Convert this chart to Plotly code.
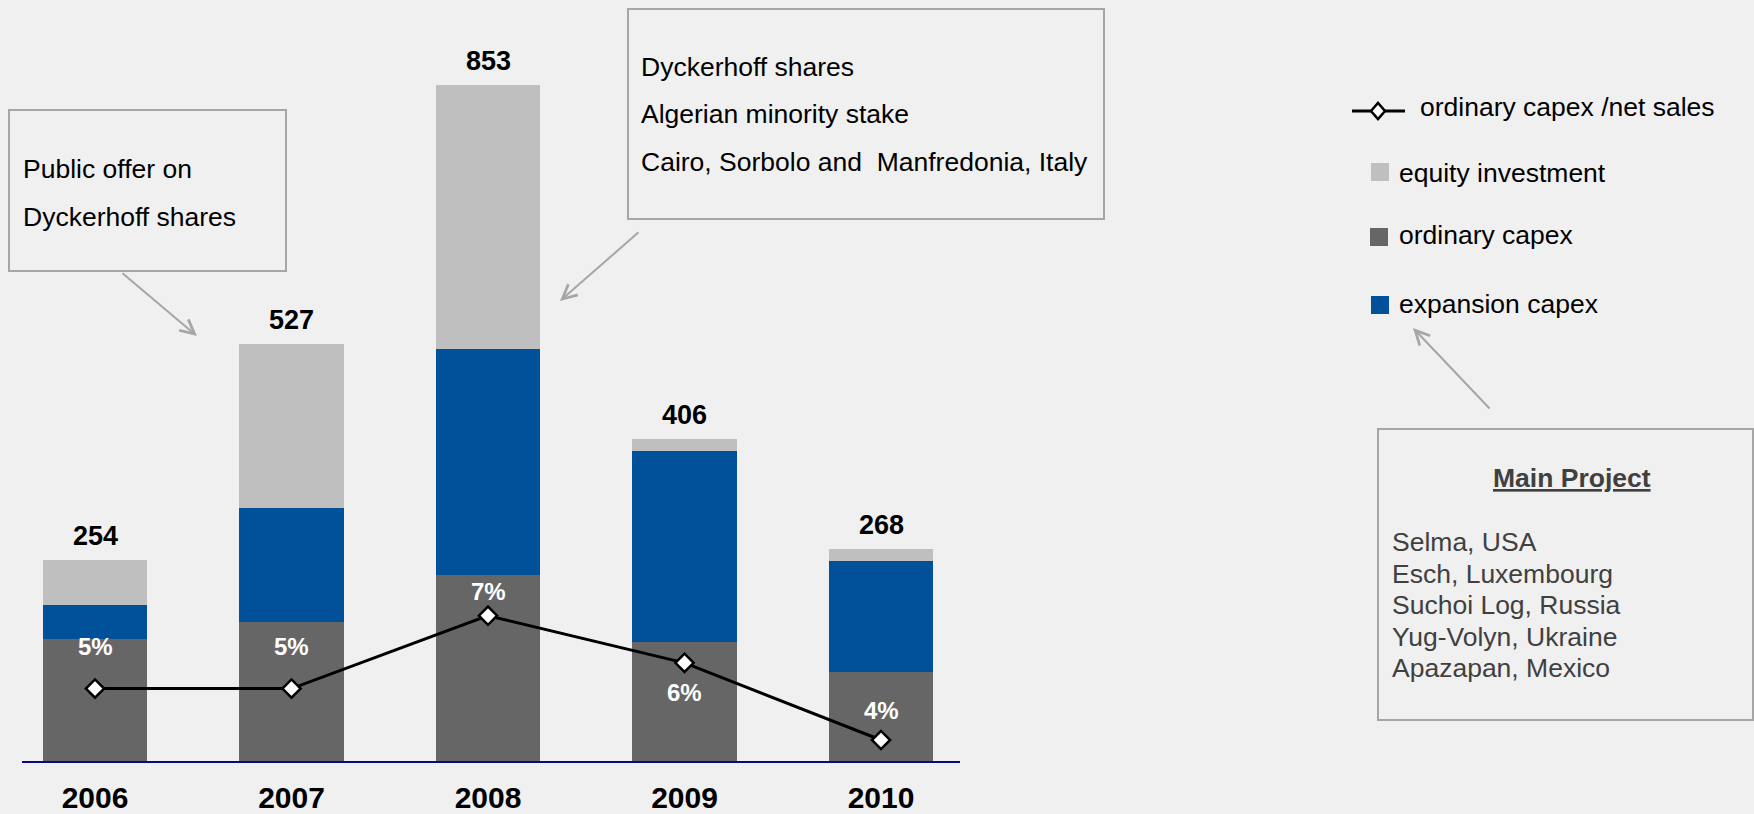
import plotly.graph_objects as go

W, H = 1754, 814
FONT = "Liberation Sans, Arial, sans-serif"

# ---- data -------------------------------------------------------------
years = ["2006", "2007", "2008", "2009", "2010"]
ordinary_capex = [154, 175, 235, 150, 112]
expansion_capex = [43, 145, 285, 242, 141]
equity_investment = [57, 207, 333, 14, 15]
capex_to_sales = [5.3, 5.3, 7.0, 5.9, 4.1]  # ordinary capex / net sales, %

callout_left = ["Public offer on", "Dyckerhoff shares"]
callout_top = ["Dyckerhoff shares", "Algerian minority stake",
               "Cairo, Sorbolo and&nbsp; Manfredonia, Italy"]
main_projects = ["Selma, USA", "Esch, Luxembourg", "Suchoi Log, Russia",
                 "Yug-Volyn, Ukraine", "Apazapan, Mexico"]

totals = [a + b + c for a, b, c in zip(ordinary_capex, expansion_capex, equity_investment)]

# ---- styling ----------------------------------------------------------
C_ORD = "#666666"
C_EXP = "#00509A"
C_EQ = "#BFBFBF"
C_BOX = "#A6A6A6"
BG = "#F0F0F0"
TXT = 26.5
pct_label_shift = [42, 42, 24, -30, 30]   # vertical offset of % labels (px)


def px(x):
    return x / W


def py(y):
    return 1 - y / H


fig = go.Figure()
fig.add_trace(go.Bar(x=years, y=ordinary_capex, name="ordinary capex",
                     marker=dict(color=C_ORD, line=dict(width=0)), showlegend=False))
fig.add_trace(go.Bar(x=years, y=expansion_capex, name="expansion capex",
                     marker=dict(color=C_EXP, line=dict(width=0)), showlegend=False))
fig.add_trace(go.Bar(x=years, y=equity_investment, name="equity investment",
                     marker=dict(color=C_EQ, line=dict(width=0)), showlegend=False))
fig.add_trace(go.Scatter(x=years, y=capex_to_sales, yaxis="y2", mode="lines+markers",
                         name="ordinary capex /net sales",
                         line=dict(color="black", width=3),
                         marker=dict(symbol="diamond", size=14, color="white",
                                     line=dict(color="black", width=2.5)),
                         showlegend=False, cliponaxis=False))

annotations = []
# totals above the stacks (category index as x position)
for i, t in enumerate(totals):
    annotations.append(dict(x=i, y=t, xref="x", yref="y", text=f"<b>{t}</b>",
                            showarrow=False, yshift=24,
                            font=dict(family=FONT, size=27, color="black")))
# percentage labels along the line
for i, (v, s) in enumerate(zip(capex_to_sales, pct_label_shift)):
    annotations.append(dict(x=i, y=v, xref="x", yref="y2", text=f"<b>{v:.0f}%</b>",
                            showarrow=False, yshift=s,
                            font=dict(family=FONT, size=24, color="white")))

# callout texts
for txt, yc in zip(callout_left, [169, 217]):
    annotations.append(dict(x=px(21), y=py(yc), xref="paper", yref="paper", text=txt,
                            xanchor="left", yanchor="middle", showarrow=False,
                            font=dict(family=FONT, size=TXT, color="black")))
for txt, yc in zip(callout_top, [67, 114, 162]):
    annotations.append(dict(x=px(639), y=py(yc), xref="paper", yref="paper", text=txt,
                            xanchor="left", yanchor="middle", showarrow=False,
                            font=dict(family=FONT, size=TXT, color="black")))
annotations.append(dict(x=px(1572), y=py(478), xref="paper", yref="paper",
                        text="<b><u>Main Project</u></b>", showarrow=False,
                        xanchor="center", yanchor="middle",
                        font=dict(family=FONT, size=TXT, color="#404040")))
for k, txt in enumerate(main_projects):
    annotations.append(dict(x=px(1390), y=py(542 + 31.5 * k), xref="paper", yref="paper",
                            text=txt, showarrow=False, xanchor="left", yanchor="middle",
                            font=dict(family=FONT, size=TXT, color="#404040")))

# arrows (head at x,y; tail offset ax,ay in px)
for (tx, ty), (hx, hy) in [((121, 272), (197, 336)),
                           ((640, 231), (560, 301)),
                           ((1491, 410), (1413, 328))]:
    annotations.append(dict(x=px(hx), y=py(hy), xref="paper", yref="paper",
                            ax=tx - hx, ay=ty - hy, axref="pixel", ayref="pixel",
                            text="", showarrow=True, arrowhead=5, arrowsize=1.4,
                            arrowwidth=2, arrowcolor=C_BOX))

# legend
legend_items = [("ordinary capex /net sales", 1418, 107),
                ("equity investment", 1397, 173),
                ("ordinary capex", 1397, 235),
                ("expansion capex", 1397, 304)]
for txt, x0, yc in legend_items:
    annotations.append(dict(x=px(x0), y=py(yc), xref="paper", yref="paper", text=txt,
                            xanchor="left", yanchor="middle", showarrow=False,
                            font=dict(family=FONT, size=TXT, color="black")))

shapes = []
for (x0, y0, x1, y1) in [(9, 110, 286, 271), (628, 9, 1104, 219), (1378, 429, 1753, 720)]:
    shapes.append(dict(type="rect", xref="paper", yref="paper",
                       x0=px(x0), x1=px(x1), y0=py(y0), y1=py(y1),
                       line=dict(color=C_BOX, width=2), fillcolor="rgba(0,0,0,0)"))

# legend symbols
shapes.append(dict(type="line", xref="paper", yref="paper",
                   x0=px(1352), x1=px(1405), y0=py(111), y1=py(111),
                   line=dict(color="black", width=3)))
cx, cy, hw, hh = 1378, 111, 7, 8
shapes.append(dict(type="path", xref="paper", yref="paper",
                   path=(f"M {px(cx - hw)},{py(cy)} L {px(cx)},{py(cy - hh)} "
                         f"L {px(cx + hw)},{py(cy)} L {px(cx)},{py(cy + hh)} Z"),
                   fillcolor="white", line=dict(color="black", width=2.5)))
for color, (x0, y0) in [(C_EQ, (1371, 163)), (C_ORD, (1370, 228)), (C_EXP, (1371, 296))]:
    shapes.append(dict(type="rect", xref="paper", yref="paper",
                       x0=px(x0), x1=px(x0 + 18), y0=py(y0), y1=py(y0 + 18),
                       fillcolor=color, line=dict(width=0)))

fig.update_layout(
    width=W, height=H,
    margin=dict(l=0, r=0, t=0, b=0, autoexpand=False),
    paper_bgcolor=BG, plot_bgcolor=BG,
    barmode="stack", bargap=0.466,
    showlegend=False,
    font=dict(family=FONT, color="black"),
    xaxis=dict(domain=[px(22), px(960)], type="category", range=[-0.3715, 4.402],
               showline=True, linecolor="#0A0A80", linewidth=2, ticks="",
               showgrid=False, zeroline=False, automargin=False, ticklabelstandoff=9,
               tickfont=dict(family=FONT, size=30, color="black", weight="bold")),
    yaxis=dict(domain=[py(761), py(40)], range=[0, 910.4], visible=False,
               showgrid=False, zeroline=False, automargin=False),
    yaxis2=dict(overlaying="y", range=[3.61, 20.43], visible=False,
                showgrid=False, zeroline=False, automargin=False),
    annotations=annotations,
    shapes=shapes,
)

fig.write_html("out.html")
